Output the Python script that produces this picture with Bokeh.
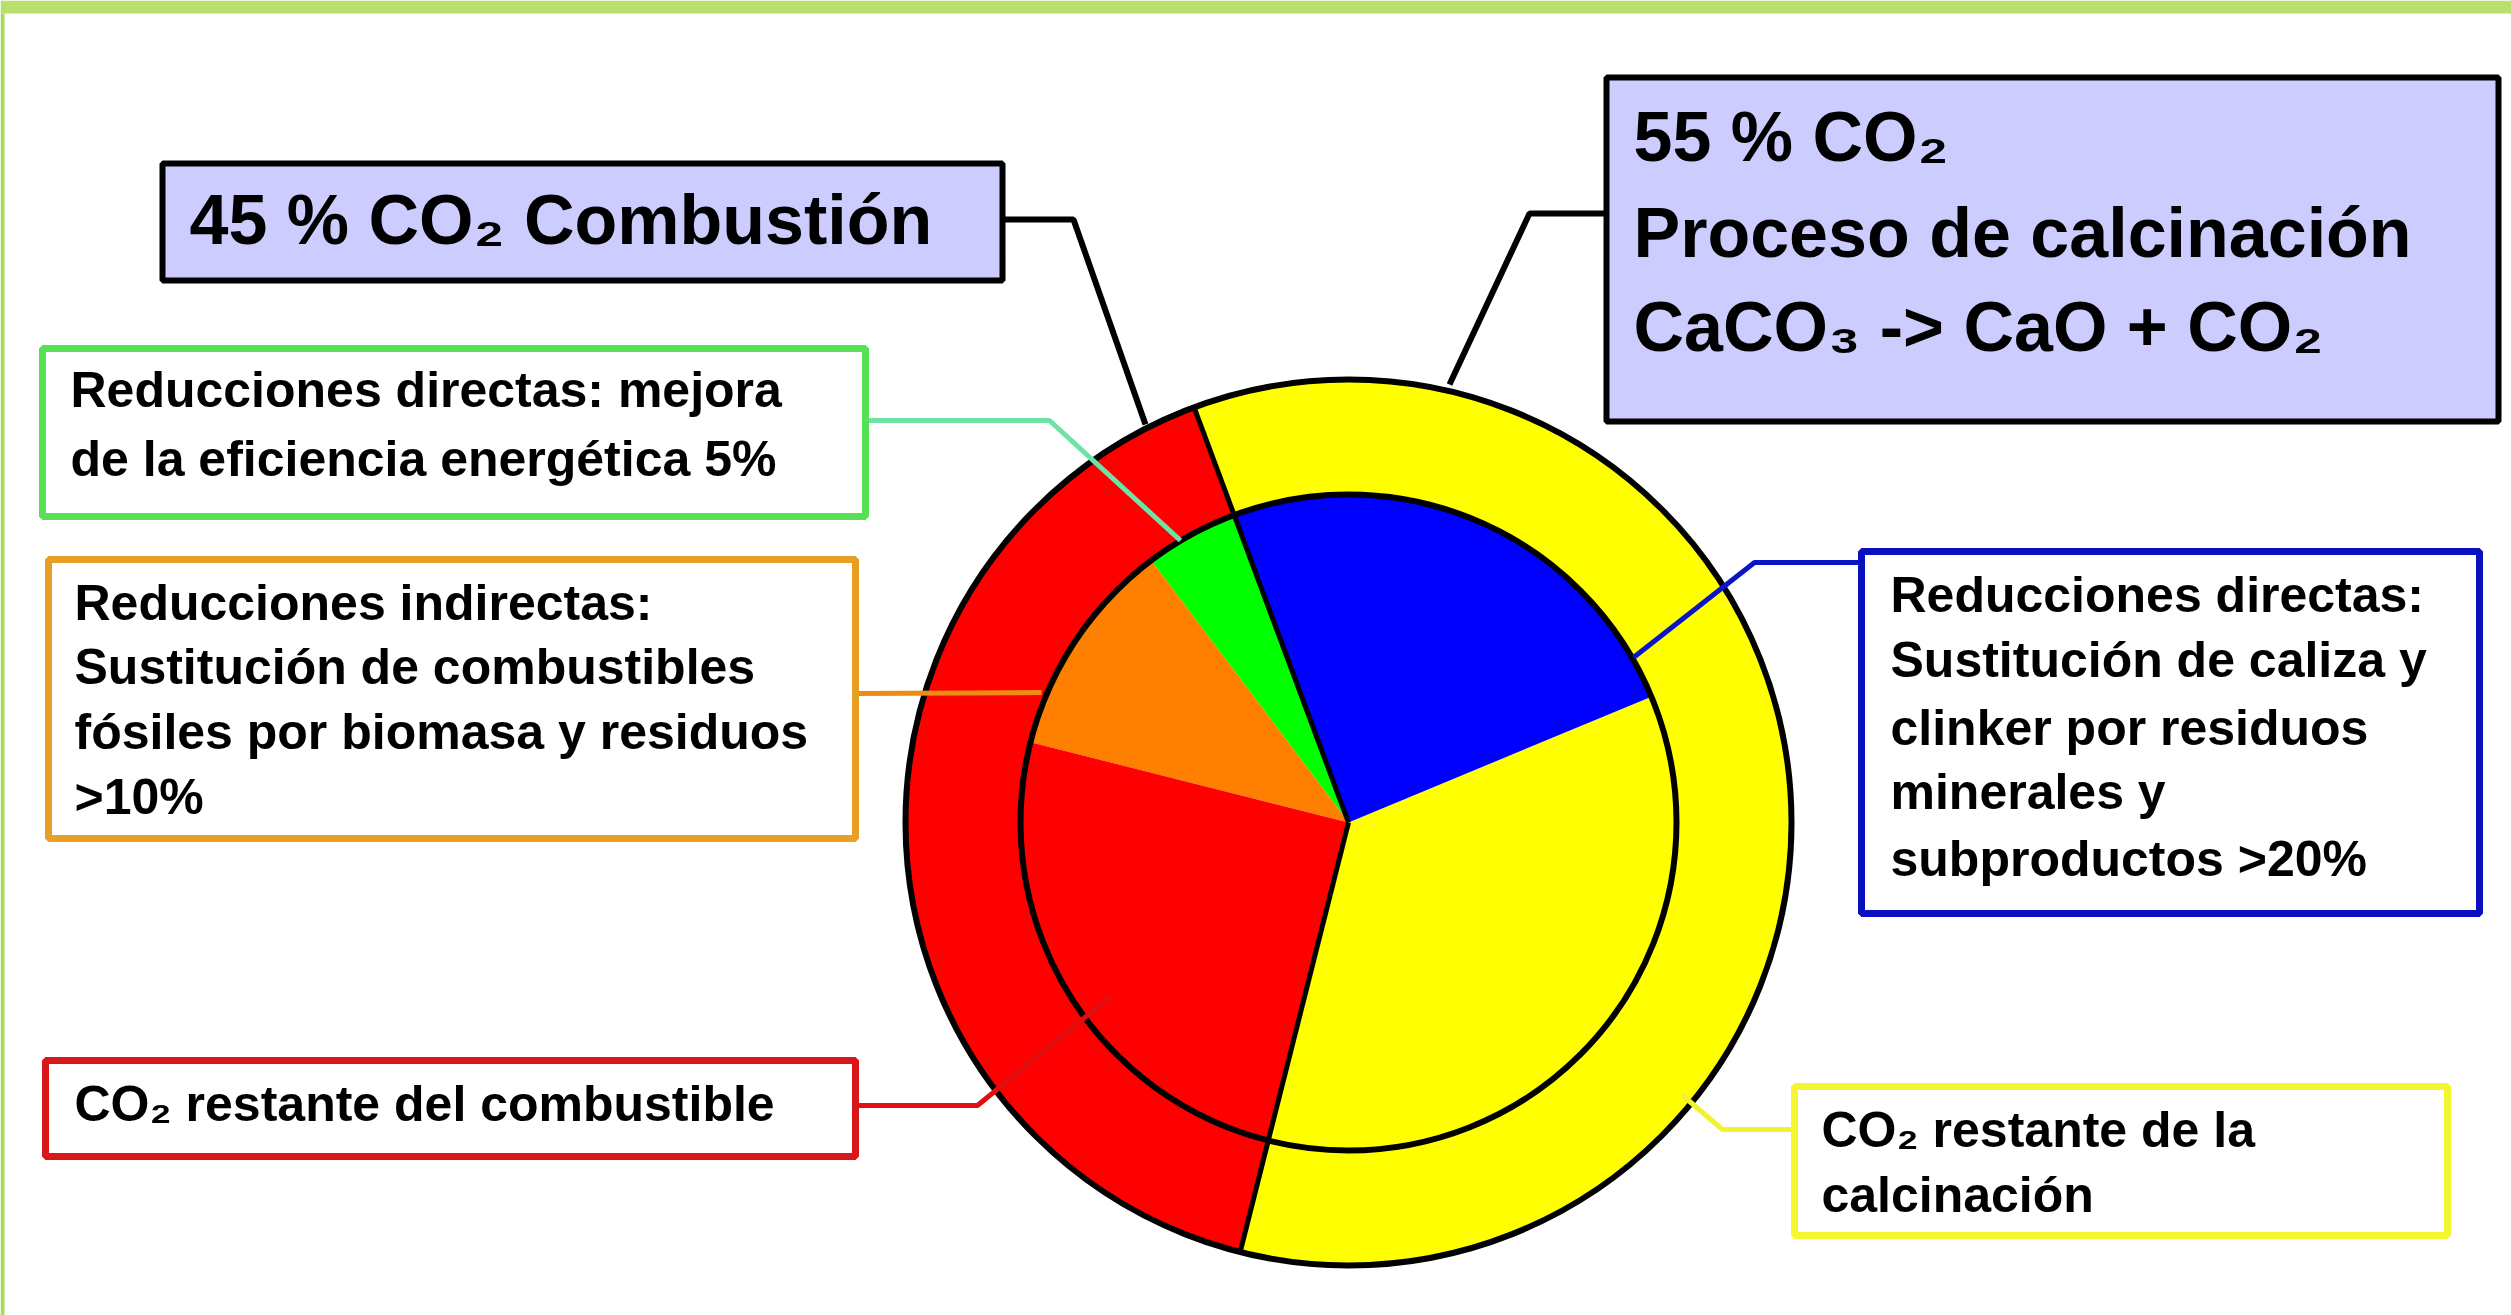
import numpy as np
from bokeh.plotting import figure
from bokeh.models import Range1d
from bokeh.core.properties import value
from bokeh.embed import file_html
from bokeh.resources import INLINE

W, H = 2511, 1315

# ---------------- data ----------------
outer_labels = ["CO₂ combustión", "CO₂ calcinación"]
outer_values = [40.4, 59.6]
outer_colors = ["#FF0000", "#FFFF00"]

inner_labels = ["Mejora de la eficiencia energética", "Sustitución de combustibles fósiles",
                "CO₂ restante del combustible", "CO₂ restante de la calcinación",
                "Sustitución de caliza y clinker"]
inner_values = [4.6, 10.8, 25.0, 35.2, 24.4]
inner_colors = ["#00FF00", "#FF8000", "#FF0000", "#FFFF00", "#0000FF"]

title_a = ["45 % CO₂ Combustión"]
title_b = ["55 % CO₂", "Proceso de calcinación", "CaCO₃ -> CaO + CO₂"]
text_green = ["Reducciones directas: mejora", "de la eficiencia energética 5%"]
text_orange = ["Reducciones indirectas:", "Sustitución de combustibles",
               "fósiles por biomasa y residuos", ">10%"]
text_red = ["CO₂ restante del combustible"]
text_blue = ["Reducciones directas:", "Sustitución de caliza y", "clinker por residuos",
             "minerales y", "subproductos >20%"]
text_yellow = ["CO₂ restante de la", "calcinación"]

# ---------------- layout ----------------
def Y(v):
    return H - v

FONT = value("Liberation Sans")
CX, CY = 1348, Y(822)
R_OUT, R_IN = 443, 328
START = np.deg2rad(110.4)

p = figure(width=W, height=H, x_range=Range1d(0, W), y_range=Range1d(0, H),
           output_backend="svg", toolbar_location=None, min_border=0)
p.axis.visible = False
p.grid.visible = False
p.outline_line_color = None
p.background_fill_color = "white"
p.border_fill_color = "white"

# page frame (green band on top and left)
p.quad(left=[0], right=[W], top=[Y(0)], bottom=[Y(13)], fill_color="#B7E06C", line_color=None)
p.quad(left=[0], right=[4], top=[Y(13)], bottom=[Y(H)], fill_color="#A9DA5E", line_color=None)

# ---------------- pie ----------------
def angles(vals, start):
    v = np.asarray(vals, dtype=float)
    frac = v / v.sum()
    cum = np.concatenate([[0], np.cumsum(frac)])
    s = start + 2 * np.pi * cum[:-1]
    e = start + 2 * np.pi * cum[1:]
    return s, e

os_, oe_ = angles(outer_values, START)
p.annular_wedge(x=CX, y=CY, inner_radius=R_IN, outer_radius=R_OUT,
                start_angle=os_, end_angle=oe_, fill_color=outer_colors, line_color=None)
is_, ie_ = angles(inner_values, START)
p.wedge(x=CX, y=CY, radius=R_IN, start_angle=is_, end_angle=ie_,
        fill_color=inner_colors, line_color=None)

# circles and main division lines
p.circle(x=[CX], y=[CY], radius=R_OUT, fill_color=None, line_color="black", line_width=6)
p.circle(x=[CX], y=[CY], radius=R_IN, fill_color=None, line_color="black", line_width=6)
div = np.array([os_[0], oe_[0]])
p.segment(x0=[CX] * 2, y0=[CY] * 2, x1=CX + R_OUT * np.cos(div), y1=CY + R_OUT * np.sin(div),
          line_color="black", line_width=5)

# ---------------- boxes ----------------
def box(l, t, r, b, fill, line, lw):
    p.quad(left=[l], right=[r], top=[Y(t)], bottom=[Y(b)], fill_color=fill,
           line_color=line, line_width=lw)

def lines(x, baselines, texts, size, shift, color="black"):
    p.text(x=[x] * len(texts), y=[Y(v - shift) for v in baselines], text=texts,
           text_font=FONT, text_font_style="bold", text_font_size=size,
           text_color=color, text_baseline="alphabetic", text_align="left")

def connector(pts, color, lw):
    p.line(x=[q[0] for q in pts], y=[Y(q[1]) for q in pts], line_color=color, line_width=lw)

# connectors (drawn above pie)
connector([(1002, 219), (1073, 219), (1145, 424)], "black", 6)
connector([(1606, 213), (1529, 213), (1449, 384)], "black", 6)
connector([(865, 420), (1049, 420), (1180, 540)], "#6FE3A5", 5)
connector([(855, 693), (1041, 692)], "#F08A10", 5)
connector([(855, 1105), (977, 1105), (1110, 996)], "#E01010", 5)
connector([(1861, 562), (1754, 562), (1633, 657)], "#0A14C8", 5)
connector([(1794, 1129), (1722, 1129), (1681, 1094)], "#F2F233", 5)

TS, SS = 26, 18  # baseline shifts for title and small text

box(162, 163, 1002, 280, "#CCCCFF", "black", 6)
lines(189, [245], title_a, "70px", TS)

box(1606, 77, 2498, 421, "#CCCCFF", "black", 6)
lines(1633, [162, 258, 352], title_b, "70px", TS)

box(42, 348, 865, 516, "white", "#55E055", 7)
lines(70, [407, 476], text_green, "50px", SS)

box(48, 559, 855, 838, "white", "#E8A024", 7)
lines(74, [620, 684, 749, 814], text_orange, "50px", SS)

box(45, 1060, 855, 1156, "white", "#D81818", 7)
lines(74, [1121], text_red, "50px", SS)

box(1861, 551, 2479, 913, "white", "#0A10C0", 7)
lines(1890, [612, 677, 745, 809, 876], text_blue, "50px", SS)

box(1794, 1086, 2447, 1235, "white", "#F5F530", 7)
lines(1821, [1147, 1212], text_yellow, "50px", SS)

open("out.html", "w").write(file_html(p, INLINE))
